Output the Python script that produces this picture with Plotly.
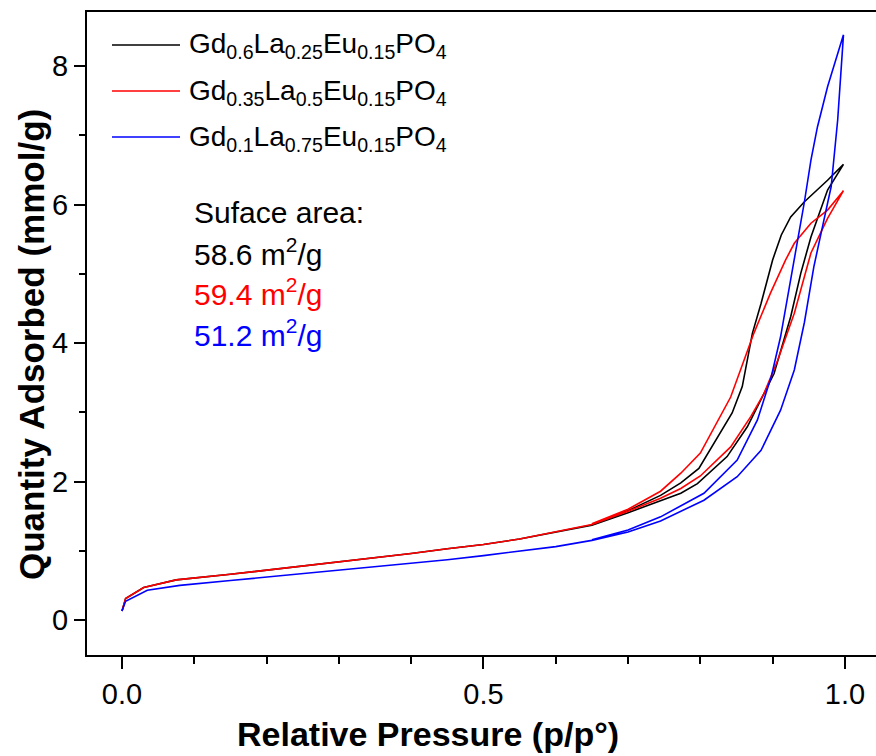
import plotly.graph_objects as go

# N2 adsorption/desorption isotherms (relative pressure p/p0 vs quantity adsorbed, mmol/g)
labels = [
    "Gd<sub>0.6</sub>La<sub>0.25</sub>Eu<sub>0.15</sub>PO<sub>4</sub>",
    "Gd<sub>0.35</sub>La<sub>0.5</sub>Eu<sub>0.15</sub>PO<sub>4</sub>",
    "Gd<sub>0.1</sub>La<sub>0.75</sub>Eu<sub>0.15</sub>PO<sub>4</sub>",
]
colors = ["#000000", "#ff0000", "#0000ff"]
surface_areas = ["58.6", "59.4", "51.2"]

# Gd0.6La0.25Eu0.15PO4
black_p = [0.0, 0.005, 0.03, 0.075, 0.15, 0.2, 0.25, 0.3, 0.35, 0.4, 0.45, 0.5, 0.55, 0.6, 0.65,
           0.7, 0.745, 0.773, 0.796, 0.837, 0.865, 0.884, 0.902, 0.925, 0.939, 0.953, 0.964, 0.976, 0.998,
           0.976, 0.944, 0.925, 0.912, 0.90, 0.884, 0.872, 0.858, 0.844, 0.798, 0.773, 0.745, 0.70, 0.65]
black_q = [0.13, 0.31, 0.47, 0.58, 0.66, 0.72, 0.77, 0.84, 0.90, 0.96, 1.03, 1.09, 1.17, 1.27, 1.37,
           1.55, 1.72, 1.83, 1.97, 2.36, 2.79, 3.18, 3.56, 4.38, 5.01, 5.53, 5.87, 6.21, 6.58,
           6.35, 6.04, 5.82, 5.56, 5.20, 4.57, 4.14, 3.37, 2.99, 2.19, 1.98, 1.80, 1.58, 1.38]

# Gd0.35La0.5Eu0.15PO4
red_p = [0.0, 0.005, 0.03, 0.075, 0.15, 0.2, 0.25, 0.3, 0.35, 0.4, 0.45, 0.5, 0.55, 0.6, 0.65,
         0.7, 0.745, 0.773, 0.80, 0.842, 0.87, 0.888, 0.907, 0.93, 0.953, 0.976, 0.998,
         0.976, 0.953, 0.93, 0.918, 0.897, 0.874, 0.842, 0.80, 0.773, 0.745, 0.70, 0.65]
red_q = [0.13, 0.31, 0.47, 0.58, 0.66, 0.72, 0.77, 0.84, 0.90, 0.96, 1.03, 1.09, 1.17, 1.27, 1.38,
         1.57, 1.76, 1.90, 2.08, 2.50, 2.94, 3.27, 3.75, 4.43, 5.30, 5.80, 6.20,
         5.92, 5.73, 5.44, 5.20, 4.72, 4.14, 3.22, 2.41, 2.12, 1.86, 1.60, 1.39]

# Gd0.1La0.75Eu0.15PO4
blue_p = [0.0, 0.005, 0.035, 0.08, 0.15, 0.2, 0.25, 0.3, 0.35, 0.4, 0.45, 0.5, 0.55, 0.6, 0.65,
          0.7, 0.745, 0.805, 0.851, 0.884, 0.911, 0.93, 0.944, 0.957, 0.969, 0.981, 0.99, 0.998,
          0.976, 0.962, 0.953, 0.944, 0.934, 0.922, 0.911, 0.898, 0.879, 0.851, 0.805, 0.745, 0.70, 0.65]
blue_q = [0.13, 0.27, 0.43, 0.50, 0.57, 0.62, 0.66, 0.71, 0.76, 0.81, 0.87, 0.93, 0.99, 1.06, 1.15,
          1.27, 1.43, 1.73, 2.07, 2.45, 3.03, 3.61, 4.30, 5.10, 5.68, 6.26, 7.22, 8.45,
          7.70, 7.12, 6.64, 6.04, 5.45, 4.75, 4.09, 3.51, 2.89, 2.31, 1.83, 1.49, 1.30, 1.16]

series = [(black_p, black_q), (red_p, red_q), (blue_p, blue_q)]

W, H = 876, 756
L, R, T, B = 87, 0, 12, 101
FONT = "Liberation Sans, Arial, sans-serif"


def px_x(px):
    return (px - L) / (W - L - R)


def px_y(py):
    return 1 - (py - T) / (H - T - B)


fig = go.Figure()
for (p, q), name, c in zip(series, labels, colors):
    fig.add_trace(go.Scatter(x=p, y=q, mode="lines", name=name,
                             line=dict(color=c, width=1.6), showlegend=False))

# legend drawn as line samples with formula labels
for i, (name, c) in enumerate(zip(labels, colors)):
    yy = 45 + 46 * i
    fig.add_shape(type="line", xref="paper", yref="paper",
                  x0=px_x(112), x1=px_x(180), y0=px_y(yy), y1=px_y(yy),
                  line=dict(color=c, width=1.6))
    fig.add_annotation(xref="paper", yref="paper", x=px_x(187), y=px_y(yy + 1),
                       text=name, showarrow=False, xanchor="left", yanchor="middle",
                       font=dict(family=FONT, size=28, color="black"))

# surface area block
fig.add_annotation(xref="paper", yref="paper", x=px_x(192), y=px_y(212),
                   text="Suface area:", showarrow=False, xanchor="left", yanchor="middle",
                   font=dict(family=FONT, size=30, color="black"))
for i, (sa, c) in enumerate(zip(surface_areas, colors)):
    fig.add_annotation(xref="paper", yref="paper", x=px_x(192), y=px_y(252 + 40.5 * i),
                       text=f"{sa} m<sup>2</sup>/g", showarrow=False,
                       xanchor="left", yanchor="middle",
                       font=dict(family=FONT, size=30, color=c))

# axis titles
fig.add_annotation(xref="paper", yref="paper", x=px_x(428), y=px_y(734),
                   text="Relative Pressure (p/p°)", showarrow=False,
                   xanchor="center", yanchor="middle",
                   font=dict(family=FONT, size=34, color="black", weight="bold"))
fig.add_annotation(xref="paper", yref="paper", x=px_x(31), y=px_y(345),
                   text="Quantity Adsorbed (mmol/g)", showarrow=False, textangle=-90,
                   xanchor="center", yanchor="middle",
                   font=dict(family=FONT, size=35, color="black", weight="bold"))

fig.update_layout(
    width=W, height=H,
    margin=dict(l=L, r=R, t=T, b=B, pad=0),
    paper_bgcolor="white", plot_bgcolor="white",
    font=dict(family=FONT, color="black"),
)
fig.update_xaxes(
    range=[-0.0484, 1.043], tick0=0, dtick=0.5, tickformat=".1f",
    showgrid=False, zeroline=False,
    showline=True, linecolor="black", linewidth=2, mirror=True,
    ticks="outside", ticklen=12, tickwidth=2, tickcolor="black",
    tickfont=dict(family=FONT, size=29, color="black"),
    minor=dict(tick0=0, dtick=0.1, ticks="outside", ticklen=7, tickwidth=2, tickcolor="black"),
)
fig.update_yaxes(
    range=[-0.505, 8.78], tick0=0, dtick=2,
    showgrid=False, zeroline=False,
    showline=True, linecolor="black", linewidth=2,
    ticks="outside", ticklen=11, tickwidth=2, tickcolor="black",
    tickfont=dict(family=FONT, size=29, color="black"),
    minor=dict(tick0=0, dtick=1, ticks="outside", ticklen=6, tickwidth=2, tickcolor="black"),
)

fig.write_html("out.html")
